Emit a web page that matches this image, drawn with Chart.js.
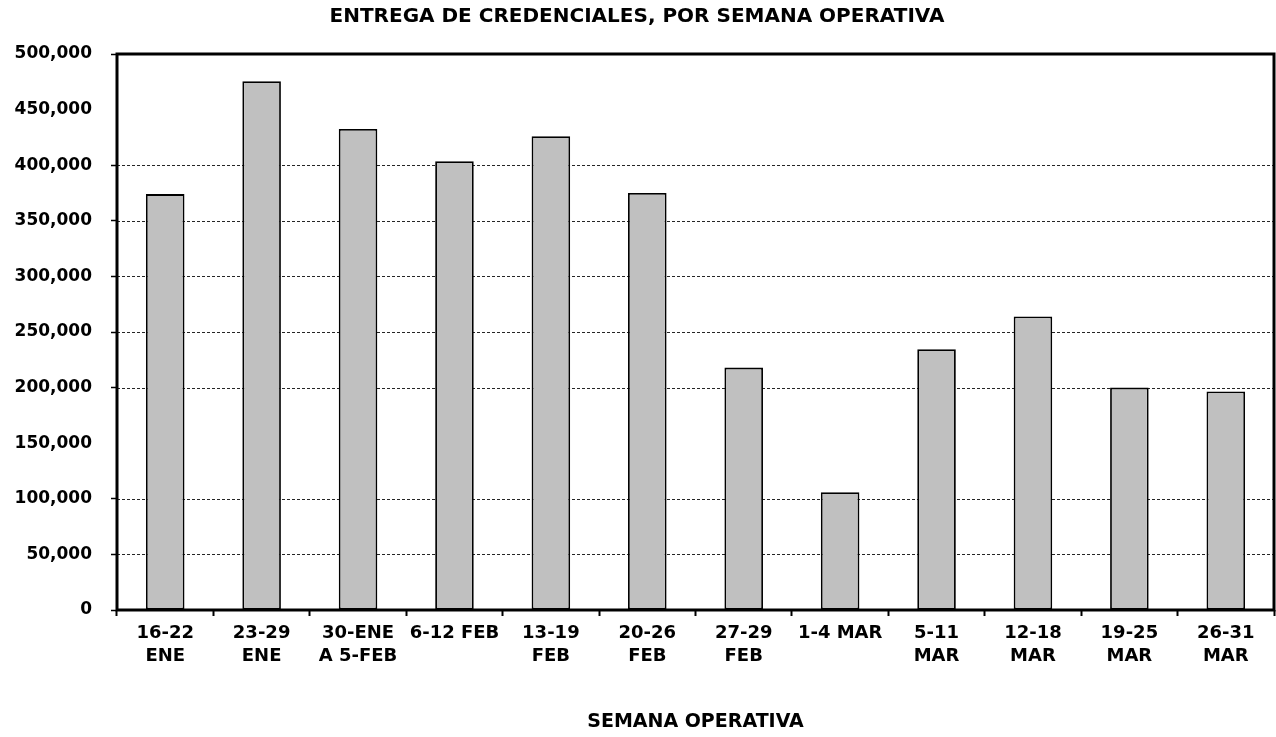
<!DOCTYPE html>
<html>
<head>
<meta charset="utf-8">
<script src="https://cdn.jsdelivr.net/npm/chart.js@4/dist/chart.umd.min.js"></script>
<style>
  body { margin: 0; background: #fff; }
  canvas { display: block; }
</style>
</head>
<body>
<canvas id="credChart" width="1276" height="737"></canvas>
<script>
// semanas operativas
const weekLabels = [
    ['16-22', 'ENE'], ['23-29', 'ENE'], ['30-ENE', 'A 5-FEB'], '6-12 FEB',
    ['13-19', 'FEB'], ['20-26', 'FEB'], ['27-29', 'FEB'], '1-4 MAR',
    ['5-11', 'MAR'], ['12-18', 'MAR'], ['19-25', 'MAR'], ['26-31', 'MAR']
];
const credentials = [374000, 475500, 432500, 403500, 426000, 375000, 218000, 106000, 234500, 264000, 200000, 196500];
// gridlines visible in the original (150,000 and 450,000 are not drawn)
const gridValues = [50000, 100000, 200000, 250000, 300000, 350000, 400000];
const hiddenTicks = [150000, 450000];

const fontFamily = '"DejaVu Sans", sans-serif';
Chart.defaults.color = '#000';

// dashed gridlines (only some values) + thick frame round the plot area
const framePlugin = {
    id: 'frame',
    beforeDatasetsDraw: function(chart) {
        const a = chart.chartArea;
        const yScale = chart.scales.y;
        const ctx = chart.ctx;
        ctx.save();
        ctx.strokeStyle = 'rgba(0,0,0,0.85)';
        ctx.lineWidth = 1;
        ctx.setLineDash([3, 2]);
        for (let i = 0; i < gridValues.length; i++) {
            const y = Math.round(yScale.getPixelForValue(gridValues[i])) + 0.5;
            ctx.beginPath();
            ctx.moveTo(a.left, y);
            ctx.lineTo(a.right, y);
            ctx.stroke();
        }
        ctx.restore();
    },
    afterDatasetsDraw: function(chart) {
        const a = chart.chartArea;
        const ctx = chart.ctx;
        ctx.save();
        ctx.strokeStyle = '#000';
        ctx.lineWidth = 3;
        ctx.strokeRect(a.left, a.top, a.right - a.left, a.bottom - a.top);
        ctx.restore();
    }
};

const ctxChart = document.getElementById('credChart');
new Chart(ctxChart, {
    type: 'bar',
    data: {
        labels: weekLabels,
        datasets: [{
            data: credentials,
            backgroundColor: '#c0c0c0',
            borderColor: '#000',
            borderWidth: 1.8,
            borderSkipped: false,
            barPercentage: 0.8,
            categoryPercentage: 0.5
        }]
    },
    options: {
        responsive: false,
        animation: false,
        layout: { padding: { left: 0, right: 2, top: 0, bottom: 0 } },
        plugins: {
            legend: { display: false },
            tooltip: { enabled: false },
            title: {
                display: true,
                text: 'ENTREGA DE CREDENCIALES, POR SEMANA OPERATIVA',
                font: { family: fontFamily, size: 20, weight: 'bold' },
                color: '#000',
                padding: { top: 5, bottom: 25 }
            }
        },
        scales: {
            x: {
                grid: {
                    offset: true,
                    drawOnChartArea: false,
                    drawTicks: true,
                    tickLength: 6,
                    tickColor: '#000',
                    tickWidth: 2
                },
                border: { display: false },
                ticks: {
                    autoSkip: false,
                    maxRotation: 0,
                    padding: 6,
                    color: '#000',
                    font: { family: fontFamily, size: 18, weight: 'bold', lineHeight: 1.28 }
                },
                title: {
                    display: true,
                    text: 'SEMANA OPERATIVA',
                    color: '#000',
                    font: { family: fontFamily, size: 19, weight: 'bold' },
                    padding: { top: 0, bottom: 4 }
                },
                afterFit: function(scale) { scale.height = 127; }
            },
            y: {
                min: 0,
                max: 500000,
                ticks: {
                    stepSize: 50000,
                    padding: 19,
                    color: '#000',
                    font: { family: fontFamily, size: 17, weight: 'bold' },
                    callback: function(v) { return v.toLocaleString('en-US'); }
                },
                grid: {
                    drawOnChartArea: false,
                    drawTicks: true,
                    tickLength: 6,
                    tickColor: function(c) {
                        if (c.tick && hiddenTicks.indexOf(Math.round(c.tick.value)) >= 0) return 'rgba(0,0,0,0)';
                        return '#000';
                    },
                    tickWidth: 1.5
                },
                border: { display: false },
                afterFit: function(scale) { scale.width = 117; }
            }
        }
    },
    plugins: [framePlugin]
});
</script>
</body>
</html>
